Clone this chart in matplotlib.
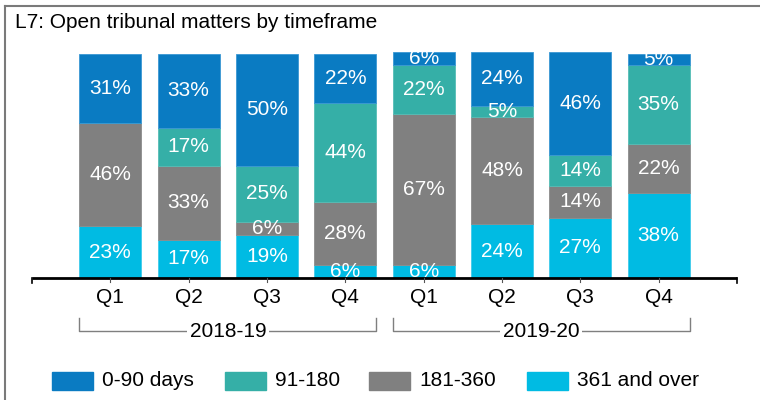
import matplotlib
matplotlib.use("Agg")
import matplotlib.pyplot as plt
from matplotlib.patches import Rectangle
from matplotlib.lines import Line2D

plt.rcParams.update({"font.family": ["Liberation Sans", "DejaVu Sans"], "font.size": 15})

quarters = ["Q1", "Q2", "Q3", "Q4", "Q1", "Q2", "Q3", "Q4"]
years = ["2018-19", "2019-20"]
bands = ["361 and over", "181-360", "91-180", "0-90 days"]
d361 = [23, 17, 19, 6, 6, 24, 27, 38]
d181 = [46, 33, 6, 28, 67, 48, 14, 22]
d91 = [0, 17, 25, 44, 22, 5, 14, 35]
d0 = [31, 33, 50, 22, 6, 24, 46, 5]
series = [d361, d181, d91, d0]
colors = ["#00BBE3", "#808080", "#35AFA7", "#0A7BC2"]
edges = ["#3FCBEB", "#8C8C8C", "#55BDB6", "#3A98D4"]

W, H = 760, 400
fig = plt.figure(figsize=(W / 100, H / 100), dpi=100)

def fx(px): return px / W
def fy(py): return 1 - py / H

# outer frame (open on right / bottom)
fig.add_artist(Line2D([fx(5), fx(5)], [fy(6), 0], color="#7a7a7a", lw=1.5))
fig.add_artist(Line2D([fx(5), 1], [fy(6), fy(6)], color="#7a7a7a", lw=1.5))
fig.text(fx(15), fy(22), "L7: Open tribunal matters by timeframe", ha="left", va="center")

# axes: x from -1 to 8, y 0..100
ax = fig.add_axes([fx(32), fy(278), fx(737) - fx(32), (278 - 54) / H])
ax.set_xlim(-1, 8); ax.set_ylim(0, 100)
ax.axis("off")
x = list(range(len(quarters)))
bottom = [0] * len(x)
for vals, c, ec in zip(series, colors, edges):
    ax.bar(x, vals, 0.79, bottom=bottom, color=c, edgecolor=ec, lw=0.6, clip_on=False)
    for xi, v, b in zip(x, vals, bottom):
        if v > 0:
            ax.text(xi, b + v / 2, f"{v}%", color="white", ha="center", va="center", clip_on=False)
    bottom = [b + v for b, v in zip(bottom, vals)]

# axis line with ticks
ax.plot([-1, 8], [0, 0], color="black", lw=2, clip_on=False, solid_capstyle="butt")
for t in [-1, 8]:
    ax.plot([t, t], [0, -2.2], color="black", lw=1.2, clip_on=False)
for xi, q in zip(x, quarters):
    ax.plot([xi, xi], [0, -1.6], color="#555555", lw=0.8, clip_on=False)
    ax.text(xi, -8.7, q, ha="center", va="center", clip_on=False)

# year brackets
for g, yr in enumerate(years):
    x0, x1 = g * 4 - 0.395, g * 4 + 3 + 0.395
    ax.plot([x0, x0, x1, x1], [-18, -23.8, -23.8, -18], color="#7f7f7f", lw=1, clip_on=False)
    ax.text((x0 + x1) / 2, -23.8, yr, ha="center", va="center", clip_on=False,
            bbox=dict(fc="white", ec="none", pad=2))

# legend row
leg_x = [52, 225, 369, 527]
for lx, lab, c in zip(leg_x, bands[::-1], colors[::-1]):
    fig.add_artist(Rectangle((fx(lx), fy(390)), fx(41), 18 / H, color=c))
    fig.text(fx(lx + 50), fy(381), lab, ha="left", va="center")

fig.savefig("out.png", dpi=100)
